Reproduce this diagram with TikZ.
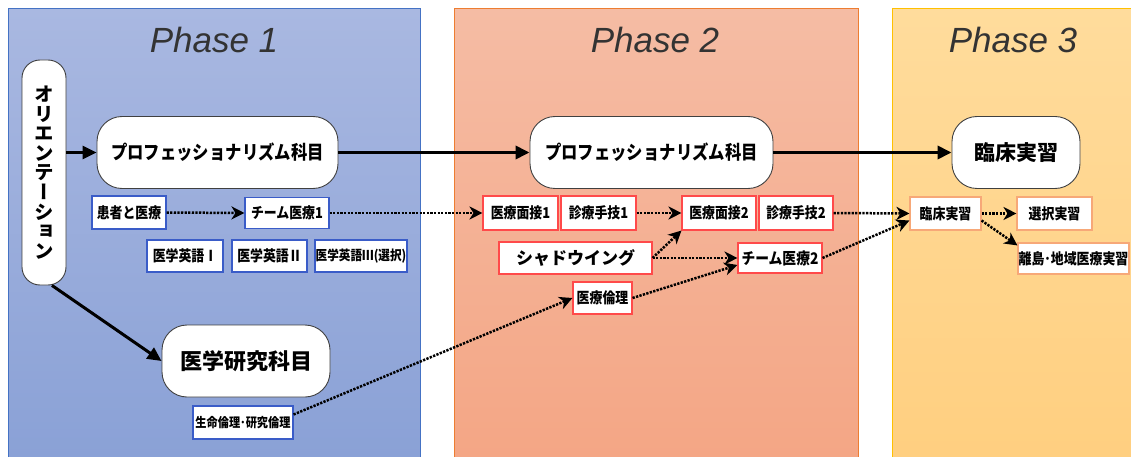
\documentclass[tikz,border=0pt]{standalone}
\usepackage{fontspec}
\usetikzlibrary{arrows.meta}
\newfontfamily\jp{Noto Sans CJK JP}
\newfontfamily\jpn{Noto Sans CJK JP}[FakeStretch=0.86]
\newfontfamily\jpv{Noto Sans CJK JP}[RawFeature=+vert]
\newfontfamily\phasefont{Liberation Sans}
\definecolor{pAtop}{HTML}{A9B8E1}
\definecolor{pAbot}{HTML}{8AA1D6}
\definecolor{pAline}{HTML}{4472C4}
\definecolor{pBtop}{HTML}{F5BCA4}
\definecolor{pBbot}{HTML}{F4A685}
\definecolor{pBline}{HTML}{ED7D31}
\definecolor{pCtop}{HTML}{FFDC9C}
\definecolor{pCbot}{HTML}{FFCF80}
\definecolor{pCline}{HTML}{FFC000}
\definecolor{bxA}{HTML}{3A5CC8}
\definecolor{bxB}{HTML}{FF4A4A}
\definecolor{bxC}{HTML}{F7A878}
\definecolor{bigline}{HTML}{404040}
\definecolor{ttl}{HTML}{333333}
\tikzset{
  big/.style={draw=bigline, fill=white, line width=0.9pt, rounded corners=25pt, inner sep=0pt},
  smallbox/.style={fill=white, line width=1.1pt, inner sep=0pt, font=\jpn\bfseries\fontsize{15}{15}\selectfont},
  boxA/.style={smallbox, draw=bxA},
  boxB/.style={smallbox, draw=bxB},
  boxC/.style={smallbox, draw=bxC},
  heavy/.style={line width=3.5pt, -{Triangle[length=14pt,width=13pt]}},
  dots/.style={line width=2.5pt, dash pattern=on 2.3pt off 1.3pt, -{Stealth[length=13pt,width=13pt,inset=4pt]}},
  phasettl/.style={font=\phasefont\itshape\fontsize{35}{35}\selectfont, text=ttl},
}
\begin{document}
\begin{tikzpicture}[x=1pt,y=-1pt]
\useasboundingbox (0,0) rectangle (1131,457);
\clip (0,0) rectangle (1131,457);
\fill[white] (0,0) rectangle (1131,457);
% panels
\shade[top color=pAtop, bottom color=pAbot] (8,9) rectangle (420,458);
\draw[pAline, line width=1pt] (8,9) rectangle (420,458);
\shade[top color=pBtop, bottom color=pBbot] (454,9) rectangle (858,458);
\draw[pBline, line width=1pt] (454,9) rectangle (858,458);
\shade[top color=pCtop, bottom color=pCbot] (892,9) rectangle (1140,458);
\draw[pCline, line width=1pt] (892,9) rectangle (1140,458);
\node[phasettl] (t1) at (214,40) {Phase 1};
\node[phasettl] (t2) at (655,40) {Phase 2};
\node[phasettl] (t3) at (1013,40) {Phase 3};
% big nodes
\node[big, rounded corners=18pt, minimum width=44pt, minimum height=225pt, align=center,
  font=\jpv\bfseries\fontsize{19.5}{19.6}\selectfont] (orient) at (44,172.5)
  {オ\\リ\\エ\\ン\\テ\\ー\\シ\\ョ\\ン};
\node[big, minimum width=241pt, minimum height=72pt, font=\jpn\bfseries\fontsize{19}{19}\selectfont] (pro1) at (217.5,152.5) {プロフェッショナリズム科目};
\node[big, minimum width=243pt, minimum height=72pt, font=\jpn\bfseries\fontsize{19}{19}\selectfont] (pro2) at (651.5,152.5) {プロフェッショナリズム科目};
\node[big, minimum width=128pt, minimum height=72pt, font=\jp\bfseries\fontsize{21}{21}\selectfont] (rin) at (1016,152.5) {臨床実習};
\node[big, minimum width=168pt, minimum height=72pt, font=\jp\bfseries\fontsize{22}{22}\selectfont] (kenkyu) at (246,361) {医学研究科目};
% phase 1 small
\node[boxA, minimum width=74pt, minimum height=33pt] (kanja) at (129,212.5) {患者と医療};
\node[boxA, minimum width=84pt, minimum height=31pt] (team1) at (287,213) {チーム医療1};
\node[boxA, minimum width=76pt, minimum height=32pt] (eigo1) at (185,256) {医学英語Ⅰ};
\node[boxA, minimum width=75pt, minimum height=32pt] (eigo2) at (269.5,256) {医学英語Ⅱ};
\node[boxA, minimum width=92pt, minimum height=32pt, font=\jpn\bfseries\fontsize{13.5}{13.5}\selectfont] (eigo3) at (361,256) {医学英語Ⅲ(選択)};
\node[boxA, minimum width=100pt, minimum height=33pt, font=\jpn\bfseries\fontsize{13}{13}\selectfont] (seimei) at (243,422.5) {生命倫理･研究倫理};
% phase 2 small
\node[boxB, minimum width=75pt, minimum height=34pt] (men1) at (520.5,213) {医療面接1};
\node[boxB, minimum width=75pt, minimum height=34pt] (shu1) at (598.5,213) {診療手技1};
\node[boxB, minimum width=74pt, minimum height=34pt] (men2) at (719,213) {医療面接2};
\node[boxB, minimum width=74pt, minimum height=34pt] (shu2) at (796,213) {診療手技2};
\node[boxB, minimum width=153pt, minimum height=32pt, font=\jp\bfseries\fontsize{17}{17}\selectfont] (shadow) at (575.5,258) {シャドウイング};
\node[boxB, minimum width=84pt, minimum height=30pt, font=\jpn\bfseries\fontsize{16}{16}\selectfont] (team2) at (780,258) {チーム医療2};
\node[boxB, minimum width=59pt, minimum height=32pt] (rinri) at (602.5,298) {医療倫理};
% phase 3 small
\node[boxC, minimum width=71pt, minimum height=33pt] (rin2) at (945.5,213.5) {臨床実習};
\node[boxC, minimum width=75pt, minimum height=33pt] (sentaku) at (1054.5,213.5) {選択実習};
\node[boxC, minimum width=111pt, minimum height=31pt] (ritou) at (1073.5,258.5) {離島･地域医療実習};
% solid arrows
\draw[heavy, line width=2.6pt] (orient.east |- pro1.west) -- (pro1.west);
\draw[heavy] (pro1.east) -- (pro2.west);
\draw[heavy] (pro2.east) -- (rin.west);
\draw[heavy, line width=3pt] ([xshift=8pt]orient.south) -- (kenkyu.west);
% dotted arrows
\draw[dots] (kanja.east) -- (team1.west);
\draw[dots] (team1.east) -- (men1.west);
\draw[dots] (shu1.east) -- (men2.west);
\draw[dots] (shadow.east) -- (men2.south west);
\draw[dots] (shadow.east) -- (team2.west);
\draw[dots] (rinri.east) -- ([yshift=-7pt]team2.west);
\draw[dots] ([yshift=8pt]seimei.east) -- (rinri.west);
\draw[dots] (shu2.east) -- (rin2.west);
\draw[dots] (team2.east) -- ([yshift=-7pt]rin2.west);
\draw[dots] (rin2.east) -- (sentaku.west);
\draw[dots] ([yshift=-7pt]rin2.east) -- ([yshift=-3pt]ritou.north west);
\end{tikzpicture}
\end{document}
